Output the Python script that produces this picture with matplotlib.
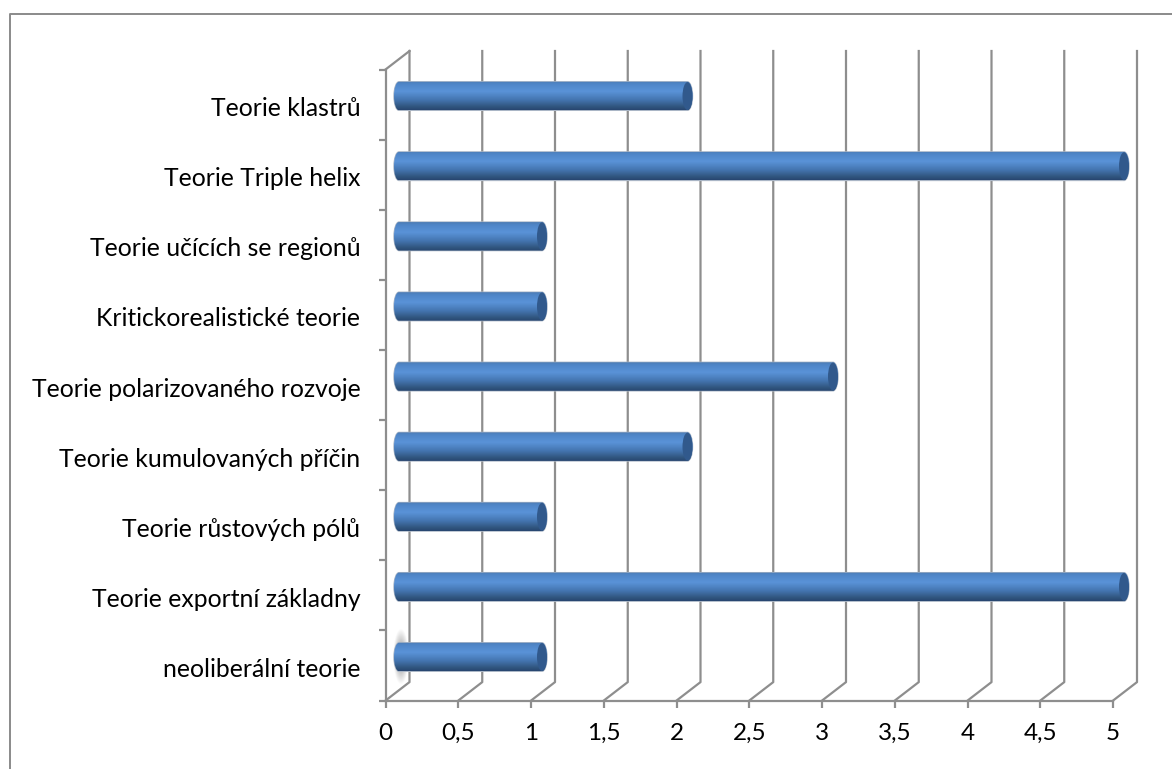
import matplotlib
matplotlib.use('Agg')
import matplotlib.pyplot as plt
import numpy as np
from matplotlib.colors import LinearSegmentedColormap
from matplotlib.lines import Line2D
from matplotlib.patches import Ellipse, PathPatch
from matplotlib.path import Path
from matplotlib.transforms import ScaledTranslation

categories = ['neoliberální teorie', 'Teorie exportní základny', 'Teorie růstových pólů',
              'Teorie kumulovaných příčin', 'Teorie polarizovaného rozvoje',
              'Kritickorealistické teorie', 'Teorie učících se regionů',
              'Teorie Triple helix', 'Teorie klastrů']
values = [1, 5, 1, 2, 3, 1, 1, 5, 2]
x_ticks = [0, 0.5, 1, 1.5, 2, 2.5, 3, 3.5, 4, 4.5, 5]
x_labels = ['0', '0,5', '1', '1,5', '2', '2,5', '3', '3,5', '4', '4,5', '5']

plt.rcParams['font.family'] = ['Lato', 'DejaVu Sans']
GRID = '#8e8e8e'

W, H = 1172, 769
fig = plt.figure(figsize=(W / 100, H / 100), dpi=100)
left, right, top, bottom = 385.5, 1113, 69.5, 700.6
ax = fig.add_axes([left / W, 1 - bottom / H, (right - left) / W, (bottom - top) / H])
ax.set_xlim(0, 5)
ax.set_ylim(0, 9)

# pixel sizes in data units
ux = 5 / (right - left)
uy = 9 / (bottom - top)
dx, dy = 24 * ux, 18.5 * uy

for s in ['top', 'right']:
    ax.spines[s].set_visible(False)
for s in ['left', 'bottom']:
    ax.spines[s].set_color(GRID)
    ax.spines[s].set_linewidth(1.6)

ax.set_xticks(x_ticks)
ax.set_xticklabels(x_labels)
ax.set_yticks(range(10))
ax.set_yticklabels([])
ax.set_yticks(np.arange(9) + 0.5, minor=True)
ax.set_yticklabels(categories, minor=True)
ax.tick_params(axis='both', which='major', color=GRID, width=1.6, length=5)
ax.tick_params(axis='x', labelsize=17.5, pad=11, labelcolor='black')
ax.tick_params(axis='y', which='minor', length=0, labelsize=17.8, pad=18, labelcolor='black')
for lbl in ax.get_yticklabels(minor=True):
    lbl.set_transform(lbl.get_transform() + ScaledTranslation(0, -2 / 100, fig.dpi_scale_trans))

# back wall lines and floor
for t in x_ticks:
    ax.plot([t, t + dx, t + dx], [0, dy, 9 + dy], color=GRID, lw=1.6, clip_on=False, zorder=1)
ax.plot([0, dx], [9, 9 + dy], color=GRID, lw=1.6, clip_on=False, zorder=1)

# soft shadow next to the first bar
shadow = LinearSegmentedColormap.from_list('s', [(0.5, 0.5, 0.5, 0.95), (0.5, 0.5, 0.5, 0)])
yy, xx = np.mgrid[-1:1:60j, -1:1:30j]
ax.imshow(np.sqrt(xx ** 2 + yy ** 2), cmap=shadow, vmin=0, vmax=1, aspect='auto',
          extent=[7 * ux, 23 * ux, 0.22, 1.02], zorder=1.5, clip_on=False)

body = LinearSegmentedColormap.from_list('body', [(0, '#274670'), (0.12, '#31567f'), (0.35, '#4475b0'),
                                                  (0.65, '#5a93d8'), (0.9, '#4f86c8'), (1, '#4d7cb4')])
grad = np.linspace(0, 1, 128).reshape(-1, 1)
bar_h = 28.5 * uy
cap = 5 * ux
k = 0.5523

for i, v in enumerate(values):
    x0 = 8.5 * ux + cap
    x1 = v + 16 * ux - cap
    yc = i + 0.5 + 8.5 * uy
    y0, y1 = yc - bar_h / 2, yc + bar_h / 2
    ky = k * bar_h / 2
    verts = [(x0, y0), (x1, y0), (x1 + cap * k, y0), (x1 + cap, yc - ky), (x1 + cap, yc),
             (x1 + cap, yc + ky), (x1 + cap * k, y1), (x1, y1), (x0, y1),
             (x0 - cap * k, y1), (x0 - cap, yc + ky), (x0 - cap, yc),
             (x0 - cap, yc - ky), (x0 - cap * k, y0), (x0, y0), (x0, y0)]
    codes = [Path.MOVETO, Path.LINETO, Path.CURVE4, Path.CURVE4, Path.CURVE4, Path.CURVE4, Path.CURVE4,
             Path.CURVE4, Path.LINETO, Path.CURVE4, Path.CURVE4, Path.CURVE4, Path.CURVE4, Path.CURVE4,
             Path.CURVE4, Path.CLOSEPOLY]
    outline = PathPatch(Path(verts, codes), facecolor='none', edgecolor='#aab6c6', lw=1.0, zorder=3,
                        clip_on=False)
    ax.add_patch(outline)
    im = ax.imshow(grad, cmap=body, aspect='auto', origin='lower', zorder=3.1, interpolation='bilinear',
                   extent=[x0 - cap, x1 + cap, y0, y1])
    im.set_clip_box(fig.bbox)
    im.set_clip_path(outline)
    ax.add_patch(Ellipse((x1, yc), 2 * cap, bar_h * 0.98, facecolor='#31598c', edgecolor='none',
                         zorder=3.2, clip_on=False))

ax.set_xlim(0, 5)
ax.set_ylim(0, 9)

# chart frame, only top and left edges are inside the picture
fig.add_artist(Line2D([10 / W, 10 / W, 1], [0, 1 - 14 / H, 1 - 14 / H], color='#8a8a8a', lw=1.4,
                      transform=fig.transFigure))

fig.savefig('out.png', dpi=100)
